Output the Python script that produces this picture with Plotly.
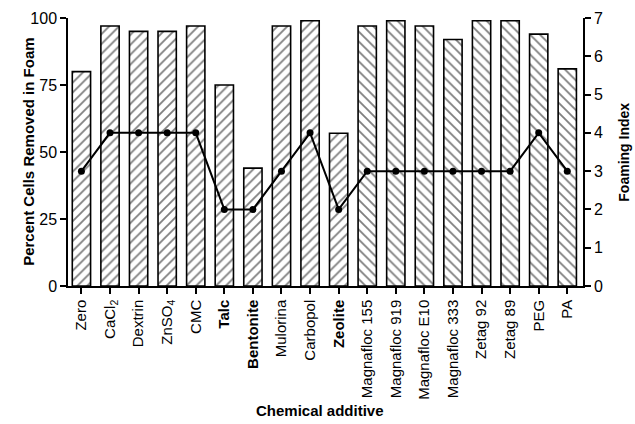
import plotly.graph_objects as go

categories = ["Zero", "CaCl<sub>2</sub>", "Dextrin", "ZnSO<sub>4</sub>", "CMC", "<b>Talc</b>",
              "<b>Bentonite</b>", "Mulorina", "Carbopol", "<b>Zeolite</b>", "Magnafloc 155",
              "Magnafloc 919", "Magnafloc E10", "Magnafloc 333", "Zetag 92", "Zetag 89", "PEG", "PA"]
percent_removed = [80, 97, 95, 95, 97, 75, 44, 97, 99, 57, 97, 99, 97, 92, 99, 99, 94, 81]
foaming_index = [3, 4, 4, 4, 4, 2, 2, 3, 4, 2, 3, 3, 3, 3, 3, 3, 4, 3]
hatch = ["/"] * 10 + ["\\"] * 8

x = list(range(len(categories)))
font = "Liberation Sans, Arial, sans-serif"

fig = go.Figure()
fig.add_trace(go.Bar(
    x=x, y=percent_removed, width=0.64,
    marker=dict(color="white", line=dict(color="black", width=1.6),
                pattern=dict(shape=hatch, fgcolor="black", bgcolor="white", size=7, solidity=0.26)),
    showlegend=False,
))
fig.add_trace(go.Scatter(
    x=x, y=foaming_index, yaxis="y2", mode="lines+markers",
    line=dict(color="black", width=2), marker=dict(color="black", size=7),
    showlegend=False,
))

fig.update_layout(
    width=635, height=424,
    margin=dict(l=68, r=52, t=18, b=138),
    plot_bgcolor="white", paper_bgcolor="white",
    font=dict(family=font, color="black"),
    xaxis=dict(
        range=[-0.47, 17.55], tickmode="array", tickvals=x, ticktext=categories,
        tickangle=-90, ticks="outside", ticklen=6, tickwidth=1.5, tickcolor="black",
        showline=True, linecolor="black", linewidth=1.5, showgrid=False, zeroline=False,
        tickfont=dict(size=15, family=font), automargin=False,
    ),
    yaxis=dict(
        range=[0, 100], tickvals=[0, 25, 50, 75, 100], ticks="outside", ticklen=6,
        tickwidth=1.5, tickcolor="black", showline=True, linecolor="black", linewidth=1.5,
        showgrid=False, zeroline=False, tickfont=dict(size=16), automargin=False,
    ),
    yaxis2=dict(
        range=[0, 7], tickvals=list(range(8)), overlaying="y", side="right",
        ticks="outside", ticklen=6, tickwidth=1.5, tickcolor="black",
        showline=True, linecolor="black", linewidth=1.5, showgrid=False, zeroline=False,
        tickfont=dict(size=16), automargin=False,
    ),
    annotations=[
        dict(text="<b>Chemical additive</b>", xref="paper", yref="paper", x=0.49, y=-0.465,
             showarrow=False, font=dict(size=15), xanchor="center", yanchor="middle"),
        dict(text="<b>Percent Cells Removed in Foam</b>", xref="paper", yref="paper",
             x=-0.078, y=0.5, textangle=-90, showarrow=False, font=dict(size=15),
             xanchor="center", yanchor="middle"),
        dict(text="<b>Foaming Index</b>", xref="paper", yref="paper",
             x=1.079, y=0.5, textangle=-90, showarrow=False, font=dict(size=14),
             xanchor="center", yanchor="middle"),
    ],
)

fig.write_html("out.html", config={"displayModeBar": False},
               post_script="document.body.style.margin='0';")
